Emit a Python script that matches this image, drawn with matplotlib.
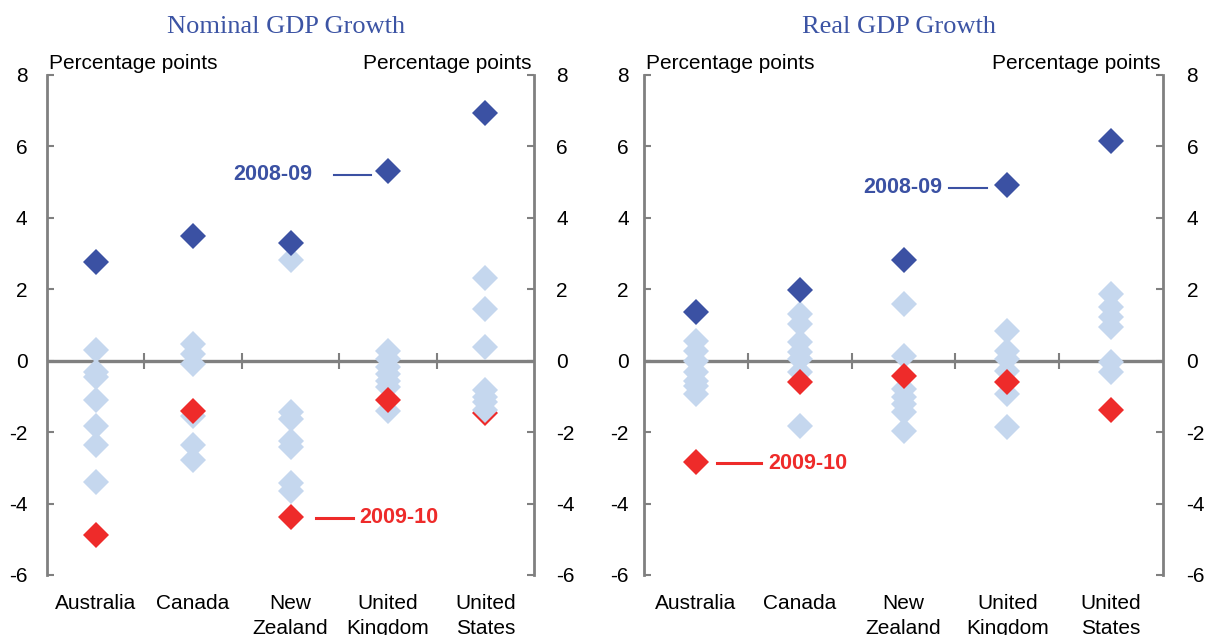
import matplotlib.pyplot as plt

# categories
countries = ["Australia", "Canada", "New\nZealand", "United\nKingdom", "United\nStates"]
y_ticks = [-6, -4, -2, 0, 2, 4, 6, 8]

# Nominal GDP growth (percentage points)
nominal_0809 = [2.76, 3.48, 3.30, 5.32, 6.93]
nominal_0910 = [-4.88, -1.40, -4.37, -1.10, -1.46]
nominal_other = [
    [0.30, -0.33, -0.47, -1.10, -1.83, -2.36, -3.39],
    [0.46, 0.18, -0.10, -1.55, -2.36, -2.79],
    [2.81, -1.45, -1.64, -2.25, -2.43, -3.42, -3.65],
    [0.28, 0.05, -0.19, -0.37, -0.56, -0.75, -1.40],
    [2.31, 1.45, 0.37, -0.83, -1.02, -1.16, -1.38],
]

# Real GDP growth (percentage points)
real_0809 = [1.36, 1.97, 2.81, 4.93, 6.15]
real_0910 = [-2.84, -0.59, -0.44, -0.61, -1.39]
real_other = [
    [0.56, 0.28, 0.00, -0.33, -0.56, -0.70, -0.94],
    [1.31, 1.03, 0.51, 0.23, 0.05, -0.33, -1.83],
    [1.59, 0.14, -0.80, -1.03, -1.22, -1.45, -1.97],
    [0.84, 0.28, 0.05, -0.28, -0.94, -1.87],
    [1.87, 1.50, 1.22, 0.94, -0.05, -0.33],
]

DARK = "#3b51a3"
LIGHT = "#c5d7ee"
RED = "#ee2b2a"
GREY = "#808080"
TITLE = "#3c54a4"
MS = 13.5

plt.rcParams["font.family"] = ["Liberation Sans", "DejaVu Sans"]
plt.rcParams["axes.unicode_minus"] = False

fig = plt.figure(figsize=(12.05, 6.35), dpi=100)
ax1 = fig.add_axes([47 / 1205, 1 - 575 / 635, 487 / 1205, 500 / 635])
ax2 = fig.add_axes([644 / 1205, 1 - 575 / 635, 519 / 1205, 500 / 635])


def draw_panel(ax, top, bottom, others, red_behind, lpad, rpad):
    n = len(countries)
    xs = list(range(n))
    for i in xs:
        ax.plot([i] * len(others[i]), others[i], ls="none", marker="D", ms=MS,
                mew=0, color=LIGHT, zorder=3)
        ax.plot([i], [bottom[i]], ls="none", marker="D", ms=MS, mew=0, color=RED,
                zorder=2 if red_behind[i] else 4)
    ax.plot(xs, top, ls="none", marker="D", ms=MS, mew=0, color=DARK, zorder=4)

    ax.axhline(0, color=GREY, lw=2.4, zorder=1)
    bounds = [i + 0.5 for i in xs[:-1]]
    ax.plot(bounds, [0] * len(bounds), ls="none", marker="|", ms=11, mew=1.5,
            color=GREY, zorder=1)

    ax.set_xlim(-0.5, n - 0.5)
    ax.set_ylim(-6, 8)
    ax.set_yticks(y_ticks)
    ax.set_xticks(xs)
    ax.set_xticklabels(countries, fontsize=15, linespacing=1.35)
    ax.tick_params(axis="x", length=0, pad=14)
    ax.tick_params(axis="y", direction="in", length=5, width=1.5, color=GREY,
                   labelsize=15, pad=lpad)
    for s in ["top", "bottom", "right"]:
        ax.spines[s].set_visible(False)
    ax.spines["left"].set_color(GREY)
    ax.spines["left"].set_linewidth(2)

    # right-hand axis
    tw = ax.twinx()
    tw.set_ylim(-6, 8)
    tw.set_yticks(y_ticks)
    tw.tick_params(axis="y", direction="in", length=5, width=1.5, color=GREY,
                   labelsize=15, pad=rpad)
    for s in ["top", "bottom", "left"]:
        tw.spines[s].set_visible(False)
    tw.spines["right"].set_color(GREY)
    tw.spines["right"].set_linewidth(2)

    ax.text(0.004, 1.004, "Percentage points", transform=ax.transAxes,
            fontsize=15, ha="left", va="bottom")
    ax.text(0.995, 1.004, "Percentage points", transform=ax.transAxes,
            fontsize=15, ha="right", va="bottom")


draw_panel(ax1, nominal_0809, nominal_0910, nominal_other,
           [False, False, False, False, True], 14, 16)
draw_panel(ax2, real_0809, real_0910, real_other,
           [False] * 5, 11, 17)

# annotations
ax1.plot([2.45, 2.83], [5.2, 5.2], color=DARK, lw=1.5)
ax1.text(2.22, 5.2, "2008-09", color=DARK, fontsize=15.5, fontweight="bold",
         ha="right", va="center")
ax1.plot([2.26, 2.64], [-4.4, -4.4], color=RED, lw=2.2)
ax1.text(2.71, -4.4, "2009-10", color=RED, fontsize=15.5, fontweight="bold",
         ha="left", va="center")

ax2.plot([2.44, 2.80], [4.84, 4.84], color=DARK, lw=1.5)
ax2.text(2.37, 4.84, "2008-09", color=DARK, fontsize=15.5, fontweight="bold",
         ha="right", va="center")
ax2.plot([0.20, 0.63], [-2.87, -2.87], color=RED, lw=2.2)
ax2.text(0.70, -2.87, "2009-10", color=RED, fontsize=15.5, fontweight="bold",
         ha="left", va="center")

fig.text(286 / 1205, 1 - 27 / 635, "Nominal GDP Growth", family="Liberation Serif",
         fontsize=19, color=TITLE, ha="center", va="center")
fig.text(899 / 1205, 1 - 27 / 635, "Real GDP Growth", family="Liberation Serif",
         fontsize=19, color=TITLE, ha="center", va="center")

fig.savefig("out.png", dpi=100)
